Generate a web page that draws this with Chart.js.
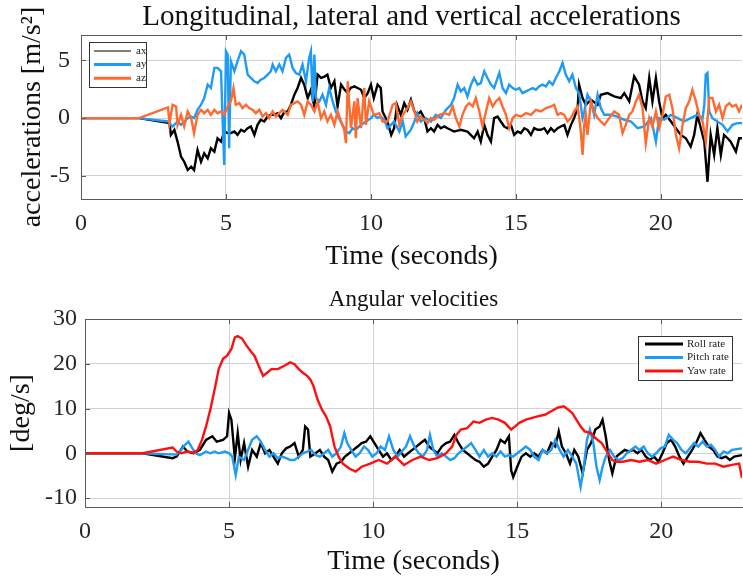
<!DOCTYPE html>
<html>
<head>
<meta charset="utf-8">
<script src="https://cdn.jsdelivr.net/npm/chart.js@4/dist/chart.umd.min.js"></script>
<style>
  body { margin: 0; background: #fff; }
  #accWrap { position: absolute; left: 0; top: 0; width: 743px; height: 282px; }
  #angWrap { position: absolute; left: 0; top: 282px; width: 743px; height: 300px; }
</style>
</head>
<body>
<div id="accWrap"><canvas id="accChart"></canvas></div>
<div id="angWrap"><canvas id="angChart"></canvas></div>
<script>
// tick values
const timeTicks = [0, 5, 10, 15, 20];
const accTicks = [-5, 0, 5];
const angTicks = [-10, 0, 10, 20, 30];

// accelerations [m/s^2], pairs of [time s, value]
const axSeries = [[0,0],[2,0],[3.05,-0.43],[3.1,-1.45],[3.22,-1.01],[3.33,-2.03],[3.45,-3.33],[3.56,-3.77],[3.68,-4.49],[3.8,-4.2],
  [3.9,-4.49],[4.02,-2.75],[4.14,-3.77],[4.25,-3.04],[4.37,-3.48],[4.48,-2.61],[4.6,-2.9],[4.71,-1.74],[4.83,-2.03],[4.94,-1.16],
  [5.06,-1.3],[5.17,-1.3],[5.29,-1.16],[5.4,-1.45],[5.52,-1.01],[5.63,-1.16],[5.75,-0.87],[5.86,-0.72],[5.98,-1.45],[6.09,-0.58],
  [6.2,-0.14],[6.32,-0.29],[6.44,0.14],[6.55,0.29],[6.67,0.29],[6.78,0.43],[6.9,0],[7.01,0.52],[7.13,0.58],[7.24,1.16],
  [7.36,2.03],[7.47,2.61],[7.59,3.48],[7.7,2.9],[7.82,1.74],[7.93,2.46],[8.05,1.01],[8.16,3.77],[8.28,3.48],[8.4,3.6],
  [8.5,3.77],[8.62,2.61],[8.74,3.19],[8.85,1.01],[8.97,2.9],[9.08,2.5],[9.2,2.17],[9.3,2.61],[9.43,2.75],[9.54,2.61],
  [9.66,2.46],[9.77,1.74],[9.89,2.17],[10,2.9],[10.1,1.74],[10.23,2.9],[10.34,2.61],[10.4,0.58],[10.57,-0.29],[10.7,-1.45],
  [10.8,-0.87],[10.9,1.16],[11.03,0.29],[11.15,1.3],[11.26,0.72],[11.38,1.6],[11.5,0.58],[11.6,0.29],[11.72,0.58],[11.84,0],
  [11.95,-1.16],[12.07,-0.87],[12.18,-1.16],[12.3,-0.58],[12.41,-0.87],[12.53,-0.72],[12.64,-0.87],[12.87,-1.16],[13.1,-1.01],[13.33,-1.16],
  [13.56,-1.74],[13.68,-1.16],[13.79,-2.03],[13.91,-0.58],[14.02,-1.45],[14.14,-2.03],[14.25,0],[14.37,0.14],[14.48,-0.29],[14.6,-0.72],
  [14.71,-0.87],[14.83,-0.58],[14.94,-1.45],[15.06,-1.16],[15.17,-1.3],[15.29,-0.87],[15.4,-1.01],[15.52,-1.45],[15.63,-0.87],[15.75,-1.01],
  [15.86,-1.01],[15.98,-0.87],[16.09,-1.3],[16.21,-0.87],[16.32,-1.16],[16.44,-0.87],[16.55,-0.72],[16.67,-0.58],[16.78,-1.45],[16.9,-0.58],
  [17.01,0],[17.13,0.87],[17.18,2.9],[17.3,1.74],[17.41,1.16],[17.59,1.59],[17.82,1.16],[17.93,2.03],[18.16,2.17],[18.39,1.88],
  [18.62,1.74],[18.74,2.17],[18.91,1.45],[19.08,3.62],[19.25,2.9],[19.37,1.45],[19.48,0.87],[19.6,3.48],[19.71,1.45],[19.83,3.48],
  [19.94,1.45],[20.06,0],[20.17,0.29],[20.35,-0.29],[20.52,-0.87],[20.69,-1.45],[20.86,-1.74],[21.03,-2.46],[21.15,-1.45],[21.26,0.29],
  [21.38,-0.87],[21.5,-2.03],[21.61,-5.51],[21.72,-1.45],[21.84,-3.19],[21.95,-0.87],[22.07,-3.19],[22.18,-1.45],[22.3,-1.74],[22.41,-2.03],
  [22.59,-2.9],[22.7,-1.74],[22.8,-1.74]];

const aySeries = [[0,0],[2,0],[3,-0.29],[3.16,-0.72],[3.33,-0.29],[3.45,-0.58],[3.68,0],[3.8,0.14],[3.9,0],[4.02,0.72],
  [4.14,1.16],[4.25,1.74],[4.37,2.9],[4.48,2.61],[4.6,4.35],[4.71,4.35],[4.83,4.06],[4.89,-0.58],[4.94,-4.06],[5,5.8],
  [5.06,5.51],[5.11,-2.61],[5.17,4.93],[5.29,4.06],[5.4,4.93],[5.52,5.8],[5.63,5.51],[5.75,3.77],[5.86,3.48],[5.98,3.19],
  [6.09,3.04],[6.2,3.33],[6.32,3.48],[6.44,3.77],[6.55,4.06],[6.61,4.64],[6.72,4.06],[6.84,4.64],[6.95,4.06],[7.07,5.22],
  [7.18,5.51],[7.3,4.35],[7.41,3.91],[7.53,3.77],[7.64,4.64],[7.76,3.19],[7.87,5.22],[7.93,5.8],[7.99,1.45],[8.05,5.51],
  [8.1,1.74],[8.22,1.45],[8.33,2.03],[8.45,1.16],[8.56,2.61],[8.68,1.45],[8.79,0.58],[8.9,0],[9.02,-0.58],[9.14,-1.16],
  [9.25,-1.3],[9.37,-0.87],[9.48,-1.01],[9.66,-0.58],[9.83,-0.29],[10,0],[10.1,0.29],[10.23,0],[10.34,0.14],[10.46,-0.14],
  [10.57,-0.87],[10.69,-0.58],[10.8,-0.29],[10.98,-1.16],[11.1,-0.29],[11.2,-1.59],[11.38,-1],[11.5,-0.29],[11.6,0.43],[11.72,-0.29],
  [11.9,0],[12.07,-0.29],[12.24,0.29],[12.41,0],[12.59,0.72],[12.76,1.16],[12.87,1.74],[12.99,2.9],[13.1,2.32],[13.22,2.61],
  [13.33,1.88],[13.45,2.9],[13.56,3.48],[13.68,2.9],[13.79,3.04],[13.91,4.06],[14.02,3.48],[14.14,2.9],[14.25,2.61],[14.37,3.48],
  [14.43,3.91],[14.54,2.61],[14.66,2.17],[14.77,2.9],[14.89,2.61],[15,2.46],[15.12,2.61],[15.23,2.17],[15.35,2.32],[15.46,2.46],
  [15.58,2.61],[15.69,2.46],[15.8,2.75],[15.92,2.9],[16.04,2.75],[16.15,3.19],[16.27,2.9],[16.38,3.48],[16.5,4.06],[16.61,4.78],
  [16.72,3.77],[16.84,3.19],[16.95,3.77],[17.07,2.61],[17.18,2.17],[17.3,0],[17.36,0.58],[17.47,2.03],[17.59,1.45],[17.7,0.29],
  [17.82,2.03],[17.93,0.87],[18.05,0.29],[18.28,0.29],[18.5,0.14],[18.74,-0.14],[18.97,-0.29],[19.2,-0.87],[19.43,-0.72],[19.66,0],
  [19.83,-2.03],[19.94,0],[20.12,-0.14],[20.35,0.29],[20.58,0],[20.8,-0.29],[21.03,0],[21.26,0.29],[21.44,0],[21.5,1.16],
  [21.55,3.77],[21.61,3.91],[21.67,0.58],[21.78,0],[21.95,-0.29],[22.13,-0.58],[22.3,-1.16],[22.47,-0.58],[22.64,-0.43],[22.8,-0.43]];

const azSeries = [[0,0],[2,0],[3,0.93],[3.05,-0.43],[3.16,1.16],[3.28,1.01],[3.33,-0.58],[3.45,0.29],[3.56,-0.72],[3.68,0.58],
  [3.8,0],[3.9,-1.3],[4.02,0.29],[4.14,0.72],[4.25,0.43],[4.37,0.72],[4.48,0.29],[4.6,0.72],[4.71,0.43],[4.83,0.58],
  [4.94,0.29],[5.06,1.01],[5.17,1.45],[5.26,2.61],[5.34,1.16],[5.46,1.3],[5.57,0.87],[5.69,1.16],[5.8,0.87],[5.92,0.72],
  [6.03,0.43],[6.15,0.72],[6.26,0.14],[6.38,0.43],[6.49,0],[6.61,0.58],[6.72,0.14],[6.84,0.43],[6.95,0.72],[7.13,0.29],
  [7.24,1.16],[7.36,1.3],[7.47,1.45],[7.59,1.16],[7.7,0.29],[7.82,1.45],[7.93,1.16],[8.05,0.58],[8.16,1.45],[8.28,0],
  [8.39,0.58],[8.5,-0.29],[8.62,0.29],[8.74,-0.58],[8.85,0.58],[8.97,-0.29],[9.08,-1.01],[9.14,-2.17],[9.2,3.19],[9.31,-0.87],
  [9.43,1.45],[9.48,-1.74],[9.54,1.74],[9.66,-0.87],[9.77,2.61],[9.83,-0.58],[9.94,1.45],[10.1,0.29],[10.29,0.43],[10.4,-0.29],
  [10.57,-0.29],[10.75,1.16],[10.86,1.3],[10.98,-0.58],[11.1,0.29],[11.26,0.87],[11.38,1.45],[11.5,0.58],[11.6,-0.29],[11.72,0.14],
  [11.84,-0.14],[11.95,-0.43],[12.07,0],[12.18,-0.14],[12.36,0.29],[12.53,0.43],[12.7,0.29],[12.82,1.01],[12.93,0],[13.05,-0.72],
  [13.16,0.29],[13.28,1.01],[13.39,1.3],[13.51,1.01],[13.62,1.74],[13.74,0.58],[13.85,-0.72],[13.97,0.58],[14.08,1.74],[14.2,1.01],
  [14.31,1.45],[14.43,1.74],[14.54,1.01],[14.66,0.29],[14.77,-0.87],[14.89,0],[15,0.29],[15.17,0.14],[15.35,0.43],[15.52,0.29],
  [15.69,0.72],[15.86,0.58],[16.04,0.87],[16.21,1.01],[16.32,1.16],[16.44,0.29],[16.55,0.43],[16.67,0.29],[16.78,-0.29],[16.9,0],
  [17.01,0.58],[17.13,1.01],[17.18,0.14],[17.24,-1.16],[17.3,-3.19],[17.36,-0.58],[17.41,0.29],[17.47,-1.45],[17.59,1.45],[17.7,0.58],
  [17.82,0],[17.93,-0.29],[18.05,-0.58],[18.22,0],[18.39,0.58],[18.56,0.29],[18.68,-1.3],[18.79,-0.58],[18.91,0.29],[19.02,0.58],
  [19.14,1.45],[19.25,2.03],[19.37,0.87],[19.48,-2.17],[19.6,0],[19.71,-0.72],[19.83,0.58],[19.94,-0.87],[20.06,0.29],[20.17,1.88],
  [20.29,2.03],[20.4,0.87],[20.52,-1.45],[20.63,-2.61],[20.75,-0.58],[20.86,0.87],[20.98,1.45],[21.09,2.46],[21.21,1.45],[21.32,0.29],
  [21.44,-0.29],[21.55,-2.03],[21.67,1.74],[21.78,1.74],[21.9,0.58],[22.01,1.16],[22.13,0],[22.24,1.01],[22.36,1.3],[22.47,1.01],
  [22.59,1.16],[22.7,0.58],[22.8,1.16]];

// angular velocities [deg/s]
const rollSeries = [[0,0],[2,0],[3.04,-1.1],[3.18,-0.75],[3.4,1.5],[3.55,0.4],[3.77,0],[3.99,0.75],[4.2,3],[4.42,3.8],
  [4.57,2.6],[4.79,3],[4.93,3.8],[5,9],[5.08,7.5],[5.2,-1.1],[5.3,4.5],[5.4,-1.5],[5.52,2.3],[5.66,-3],
  [5.8,0.75],[5.96,-0.75],[6.1,2.3],[6.25,0],[6.4,0.75],[6.54,-0.75],[6.69,-2.3],[6.83,0],[6.98,1.1],[7.12,1.5],
  [7.27,2.3],[7.42,-0.75],[7.56,0.75],[7.64,6],[7.74,5.3],[7.82,-0.75],[8,0],[8.15,0.75],[8.3,-0.75],[8.44,-1.5],
  [8.58,-4.1],[8.73,-2.3],[8.88,-1.9],[9.02,-0.75],[9.17,0],[9.31,0.75],[9.46,1.5],[9.6,2.3],[9.75,2.6],[9.9,3.8],
  [10.04,2.3],[10.19,0.75],[10.34,-0.75],[10.48,0],[10.63,-1.5],[10.77,-0.75],[10.92,0.75],[11.07,-0.75],[11.21,0],[11.36,0.75],
  [11.5,1.5],[11.65,2.3],[11.8,3],[11.94,1.5],[12.09,0.75],[12.23,0],[12.38,1.5],[12.53,2.3],[12.67,2.6],[12.82,4.1],
  [12.96,2.3],[13.11,0.75],[13.26,0],[13.4,-0.75],[13.55,-1.5],[13.69,-1.9],[13.84,-3],[13.99,-2.3],[14.13,-0.75],[14.28,0.75],
  [14.42,3],[14.57,2.3],[14.71,3.8],[14.79,-3.8],[14.86,-5.3],[15,-3],[15.15,-0.75],[15.3,0],[15.45,-0.75],[15.59,0],
  [15.74,-0.75],[15.88,0.75],[16.03,0],[16.18,2.3],[16.32,1.5],[16.44,4.9],[16.55,1.5],[16.69,0],[16.83,-2.3],[16.98,0.75],
  [17.12,-0.75],[17.27,-4.5],[17.42,0.75],[17.56,2.3],[17.71,5.3],[17.86,6],[17.96,7.5],[18.07,3.8],[18.19,-1.5],[18.3,-4.5],
  [18.44,-0.75],[18.58,0],[18.73,0.75],[18.88,0.4],[19.02,0.75],[19.17,0],[19.31,0.75],[19.46,-0.75],[19.6,-1.5],[19.75,-0.75],
  [19.9,-1.9],[20.04,0],[20.19,2.3],[20.34,3],[20.48,1.5],[20.63,-0.75],[20.77,-2.3],[20.92,-0.75],[21.07,0.75],[21.21,2.3],
  [21.36,4.5],[21.5,3],[21.65,1.5],[21.8,0.75],[21.95,-0.75],[22.09,-1.1],[22.24,-0.75],[22.38,-1.5],[22.53,-0.75],[22.8,-0.4]];

const pitchSeries = [[0,0],[2,0],[3.18,-0.3],[3.33,0.75],[3.47,1.9],[3.59,2.6],[3.69,1.5],[3.84,0],[3.99,-0.4],[4.2,0.4],
  [4.35,0],[4.5,0.4],[4.64,0],[4.86,0.4],[5,0],[5.11,-0.75],[5.23,-4.9],[5.34,-0.75],[5.52,-1.5],[5.66,0.75],
  [5.8,3],[5.96,3.8],[6.1,2.6],[6.25,0.75],[6.4,-0.75],[6.54,0],[6.69,-1.1],[6.83,-0.75],[6.98,-1.1],[7.12,-1.5],
  [7.27,-1.5],[7.42,-0.75],[7.56,0],[7.71,0.4],[7.85,0.75],[8,-0.4],[8.15,-0.75],[8.3,0],[8.44,0.75],[8.58,-0.75],
  [8.73,0],[8.88,1.5],[9,4.5],[9.1,2.3],[9.24,0.75],[9.39,-0.75],[9.53,0],[9.68,1.5],[9.82,0.75],[9.97,-0.75],
  [10.12,0],[10.26,1.5],[10.41,0.75],[10.55,3.8],[10.7,0.75],[10.85,-0.75],[10.99,0.4],[11.14,1.5],[11.28,3.8],[11.43,1.5],
  [11.58,0],[11.72,-0.75],[11.87,0.75],[11.97,4.1],[12.09,0.75],[12.23,-0.75],[12.38,0],[12.53,-0.75],[12.67,-1.5],[12.82,-1.1],
  [12.96,0],[13.11,0.75],[13.26,1.5],[13.4,2.3],[13.55,0.75],[13.69,-0.75],[13.84,0.75],[13.99,-0.75],[14.13,0],[14.28,-0.75],
  [14.42,0.4],[14.57,-0.75],[14.71,-0.4],[14.86,-0.75],[15,0],[15.15,0.75],[15.3,1.5],[15.45,0.75],[15.59,-0.75],[15.74,-1.5],
  [15.88,0.75],[16.03,0],[16.18,0.75],[16.32,3],[16.47,0.75],[16.61,-0.75],[16.76,0.75],[16.91,-0.75],[17.05,-2.3],[17.2,-7.5],
  [17.31,-3],[17.42,3],[17.52,5.3],[17.64,2.3],[17.75,-3],[17.86,-6],[17.96,-3],[18.07,-0.75],[18.22,0.75],[18.36,-0.75],
  [18.51,-1.5],[18.66,-1.1],[18.8,0],[18.95,0.75],[19.1,1.5],[19.24,0.75],[19.39,1.5],[19.53,0],[19.68,-0.75],[19.82,0],
  [19.97,1.1],[20.12,1.5],[20.26,4.1],[20.41,3],[20.55,2.3],[20.7,0.75],[20.85,0],[20.99,1.1],[21.14,2.3],[21.28,1.5],
  [21.43,2.6],[21.58,1.5],[21.72,1.9],[21.87,0.75],[22.01,-0.75],[22.16,0.4],[22.3,0],[22.45,0.75],[22.8,1.1]];

const yawSeries = [[0,0],[2,0],[3.04,1.3],[3.18,0.4],[3.33,0],[3.55,0.4],[3.77,0.15],[3.91,0.75],[4.06,3],[4.2,6],
  [4.35,9.8],[4.5,14.3],[4.64,18.8],[4.79,21.1],[4.93,21.8],[5.08,23.3],[5.2,25.9],[5.3,26.2],[5.45,25.6],[5.6,24.1],
  [5.74,22.9],[5.88,21.8],[6.03,19.5],[6.18,17.3],[6.32,18],[6.47,18.8],[6.69,18.8],[6.9,19.5],[7.12,20.3],[7.27,19.9],
  [7.42,18.8],[7.56,18],[7.71,17.3],[7.82,16.5],[7.93,15],[8.07,12],[8.22,9.8],[8.36,8.3],[8.51,6],[8.58,3.8],
  [8.66,1.5],[8.8,-0.75],[8.95,-2.3],[9.17,-3.4],[9.39,-4.1],[9.6,-3],[9.9,-2.3],[10.19,-1.5],[10.48,-2.3],[10.77,-0.75],
  [11.07,-2.6],[11.36,-1.5],[11.65,-0.75],[11.94,-1.5],[12.23,-1.1],[12.53,0],[12.74,1.5],[12.89,4.1],[13.04,5.3],[13.26,5.6],
  [13.48,7.1],[13.69,6.8],[13.91,7.5],[14.13,7.9],[14.35,7.5],[14.57,6.8],[14.79,5.3],[14.93,6],[15.07,6.8],[15.3,7.5],
  [15.52,7.9],[15.74,8.3],[15.96,8.6],[16.18,9.4],[16.4,10.2],[16.61,10.5],[16.76,9.8],[16.91,9],[17.05,7.5],[17.2,6],
  [17.34,4.9],[17.56,4.5],[17.71,3.4],[17.93,2.3],[18.15,0],[18.3,-1.5],[18.44,-1.9],[18.66,-1.9],[18.95,-1.5],[19.24,-1.9],
  [19.53,-1.5],[19.82,-2.3],[20.12,-1.5],[20.41,-0.75],[20.7,-1.5],[20.99,-1.9],[21.28,-1.9],[21.58,-2.3],[21.87,-2.3],[22.16,-3],
  [22.45,-2.6],[22.7,-2.3],[22.8,-5.5]];

const SERIF = "'Liberation Serif', 'Times New Roman', serif";
Chart.defaults.font.family = SERIF;
Chart.defaults.color = '#262626';

const toPoints = s => s.map(p => ({ x: p[0], y: p[1] }));

// MATLAB-ish box: top edge + inward tick marks
const framePlugin = {
  id: 'frame',
  afterDatasetsDraw(chart) {
    const { ctx, chartArea: a, scales } = chart;
    ctx.save();
    ctx.strokeStyle = '#5a5a5a';
    ctx.lineWidth = 1;
    ctx.beginPath();
    ctx.moveTo(a.left, a.top + 0.5); ctx.lineTo(a.right, a.top + 0.5);
    scales.x.ticks.forEach(t => {
      const px = Math.round(scales.x.getPixelForValue(t.value)) + 0.5;
      ctx.moveTo(px, a.bottom); ctx.lineTo(px, a.bottom - 5);
      ctx.moveTo(px, a.top); ctx.lineTo(px, a.top + 5);
    });
    scales.y.ticks.forEach(t => {
      const py = Math.round(scales.y.getPixelForValue(t.value)) + 0.5;
      ctx.moveTo(a.left, py); ctx.lineTo(a.left + 5, py);
    });
    ctx.stroke();
    ctx.restore();
  }
};

// boxed legend drawn from the datasets
const boxLegend = {
  id: 'boxLegend',
  afterDatasetsDraw(chart, args, o) {
    const ctx = chart.ctx;
    ctx.save();
    ctx.fillStyle = '#fff';
    ctx.fillRect(o.x, o.y, o.w, o.h);
    ctx.strokeStyle = '#333';
    ctx.lineWidth = 1;
    ctx.strokeRect(o.x + 0.5, o.y + 0.5, o.w, o.h);
    ctx.font = o.fontSize + 'px ' + SERIF;
    ctx.textBaseline = 'middle';
    chart.data.datasets.forEach((ds, i) => {
      const yy = o.y + o.first + i * o.step;
      ctx.strokeStyle = ds.borderColor;
      ctx.lineWidth = o.widths[i];
      ctx.beginPath();
      ctx.moveTo(o.x + o.lineFrom, yy);
      ctx.lineTo(o.x + o.lineTo, yy);
      ctx.stroke();
      ctx.fillStyle = '#222';
      ctx.fillText(ds.label, o.x + o.textX, yy);
    });
    ctx.restore();
  }
};

function lineSet(label, series, color, order) {
  return {
    label, data: toPoints(series), borderColor: color, backgroundColor: color,
    borderWidth: 2.4, pointRadius: 0, tension: 0, order
  };
}

function makeOptions(cfg) {
  return {
    responsive: true,
    maintainAspectRatio: false,
    animation: false,
    layout: { padding: { left: 0, right: 1, top: 0, bottom: 0 } },
    plugins: {
      legend: { display: false },
      tooltip: { enabled: false },
      title: {
        display: true, text: cfg.title, color: '#111', fullSize: false,
        font: { size: cfg.titleSize, weight: 'normal' },
        padding: { top: cfg.titleTop, bottom: cfg.titleBottom }
      },
      boxLegend: cfg.legend
    },
    scales: {
      x: {
        type: 'linear', min: 0, max: 22.8,
        afterFit: s => { s.height = cfg.xHeight; },
        afterBuildTicks: s => { s.ticks = timeTicks.map(v => ({ value: v })); },
        grid: { color: '#d2d2d2', drawTicks: false },
        border: { color: '#5a5a5a' },
        ticks: { padding: 10, maxRotation: 0, autoSkip: false, font: { size: 24 } },
        title: {
          display: true, text: 'Time (seconds)', color: '#111',
          font: { size: 28 }, padding: { top: 0, bottom: cfg.xTitleBottom }
        }
      },
      y: {
        min: cfg.yMin, max: cfg.yMax,
        afterFit: s => { s.width = cfg.yWidth; },
        afterBuildTicks: s => { s.ticks = cfg.yTicks.map(v => ({ value: v })); },
        grid: { color: '#d2d2d2', drawTicks: false },
        border: { color: '#5a5a5a' },
        ticks: { padding: cfg.yPad, font: { size: 24 } },
        title: {
          display: true, text: cfg.yTitle, color: '#111',
          font: { size: 28 }, padding: { top: cfg.yTitleTop, bottom: 0 }
        }
      }
    }
  };
}

new Chart(document.getElementById('accChart'), {
  type: 'line',
  data: {
    datasets: [
      lineSet('ax', axSeries, '#000000', 3),
      lineSet('ay', aySeries, '#1e9bf5', 2),
      lineSet('az', azSeries, '#ff6a30', 1)
    ]
  },
  options: makeOptions({
    title: 'Longitudinal, lateral and vertical accelerations',
    titleSize: 29, titleTop: 0, titleBottom: 0.2,
    yTitle: 'accelerations [m/s²]', yTitleTop: 16,
    yMin: -7, yMax: 7.2, yTicks: accTicks, yWidth: 81, yPad: 11,
    xHeight: 83, xTitleBottom: 8.6,
    legend: { x: 89, y: 42, w: 57, h: 45, first: 9, step: 13.6,
              lineFrom: 5, lineTo: 42, textX: 47, fontSize: 11, widths: [1, 3, 3] }
  }),
  plugins: [framePlugin, boxLegend]
});

new Chart(document.getElementById('angChart'), {
  type: 'line',
  data: {
    datasets: [
      lineSet('Roll rate', rollSeries, '#000000', 3),
      lineSet('Pitch rate', pitchSeries, '#1e9bf5', 2),
      lineSet('Yaw rate', yawSeries, '#ff1010', 1)
    ]
  },
  options: makeOptions({
    title: 'Angular velocities',
    titleSize: 23, titleTop: 4.2, titleBottom: 5.2,
    yTitle: '[deg/s]', yTitleTop: 5,
    yMin: -12, yMax: 30, yTicks: angTicks, yWidth: 85, yPad: 8,
    xHeight: 75, xTitleBottom: 3.2,
    legend: { x: 638, y: 54, w: 94, h: 44, first: 8, step: 13.5,
              lineFrom: 7, lineTo: 45, textX: 49, fontSize: 11, widths: [3, 3, 3] }
  }),
  plugins: [framePlugin, boxLegend]
});
</script>
</body>
</html>
